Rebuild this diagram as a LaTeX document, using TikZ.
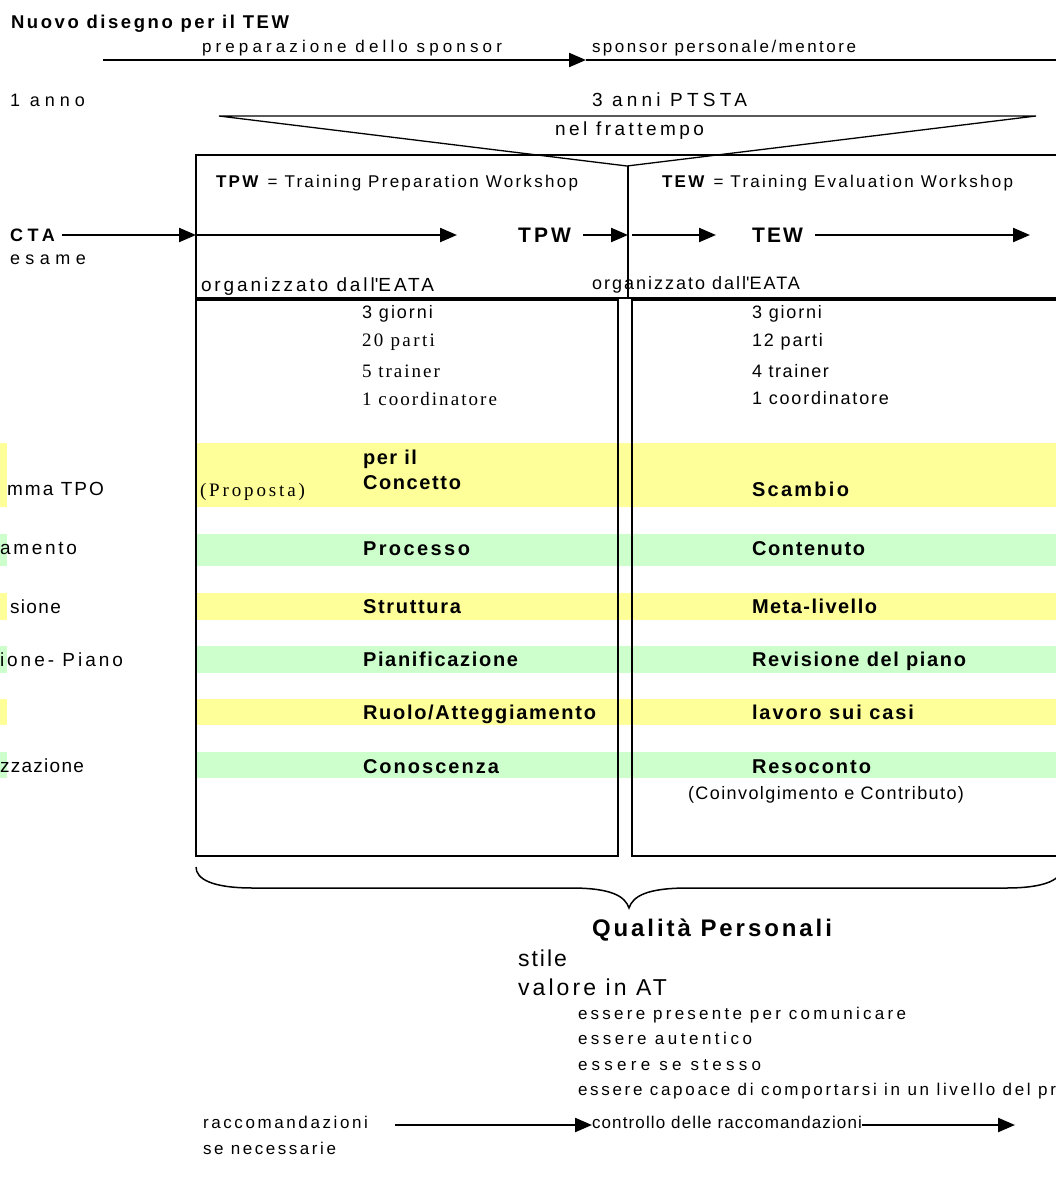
\documentclass[tikz,border=0pt]{standalone}
\usepackage{fontspec}
\setmainfont{Liberation Sans}
\newfontfamily\serifo{Liberation Serif}
\usetikzlibrary{arrows.meta}
\definecolor{bandY}{HTML}{FFFF99}
\definecolor{bandG}{HTML}{CCFFCC}
\ExplSyntaxOn
\cs_new_protected:Npn \fitw #1#2
  {
    \hbox_set:Nn \l_tmpa_box {#2}
    \hbox_set:Nn \l_tmpb_box { \addfontfeature{LetterSpace=10} #2 }
    \tl_set:Nx \l_tmpa_tl
      {
        \fp_eval:n
          {
            round( 10 * ( \dim_to_fp:n {#1} - \dim_to_fp:n { \box_wd:N \l_tmpa_box } )
              / ( \dim_to_fp:n { \box_wd:N \l_tmpb_box } - \dim_to_fp:n { \box_wd:N \l_tmpa_box } ) , 3 )
          }
      }
    \group_begin:
    \exp_args:Nx \addfontfeature { LetterSpace = \l_tmpa_tl }
    #2
    \group_end:
  }
\ExplSyntaxOff
\tikzset{
  txt/.style={inner sep=0pt, outer sep=0pt, anchor=base west},
  box/.style={line width=1.3pt, line join=miter},
  arr/.style={line width=2.3pt, -{Triangle[length=17pt,width=14pt]}},
  plain/.style={line width=2.3pt},
}
% \tx[opts]{name}{x}{y}{size}{width}{text}
\newcommand\tx[7][]{\node[txt,#1] (#2) at (#3,#4) {\fontsize{#5}{#5}\selectfont\fitw{#6pt}{#7}};}
\begin{document}
\begin{tikzpicture}[x=1pt,y=-1pt]
\useasboundingbox (0,0) rectangle (1056,1184);
\clip (0,0) rectangle (1056,1184);
% colour bands
\fill[bandY] (196,443) rectangle (1060,507);
\fill[bandG] (196,534) rectangle (1060,566);
\fill[bandY] (196,593) rectangle (1060,620);
\fill[bandG] (196,646) rectangle (1060,673);
\fill[bandY] (196,699) rectangle (1060,725);
\fill[bandG] (196,752) rectangle (1060,778);
\fill[bandY] (0,443) rectangle (7,507);
\fill[bandG] (0,534) rectangle (7,566);
\fill[bandY] (0,593) rectangle (7,620);
\fill[bandG] (0,646) rectangle (7,673);
\fill[bandY] (0,699) rectangle (7,725);
\fill[bandG] (0,752) rectangle (7,778);
% boxes
\draw[box] (1060,155) -- (196,155) -- (196,298) -- (1060,298);
\draw[box] (628,166) -- (628,298);
\draw[box] (196,300) rectangle (618,856);
\draw[box] (1060,300) -- (632,300) -- (632,856) -- (1060,856);
% triangle
\draw[line width=1.3pt, line join=miter] (219,116) -- (1036,116) -- (627,166) -- cycle;
% brace
\draw[line width=1.5pt] (196,867) .. controls (196,879) and (212,888) .. (253,888) -- (571,888)
  .. controls (611,888) and (625,896) .. (629,908)
  .. controls (633,896) and (647,888) .. (688,888) -- (1006,888)
  .. controls (1047,888) and (1062,879) .. (1062,867);
% texts
\tx[font=\bfseries]{title}{11}{28}{18.5}{278}{Nuovo disegno per il TEW}
\tx{prep}{202}{52}{17}{300}{preparazione dello sponsor}
\tx{spons}{592}{52}{17}{264}{sponsor personale/mentore}
\tx{anno}{10}{106}{18}{75}{1 anno}
\tx{ptsta}{592}{106}{19}{155}{3 anni PTSTA}
\tx{nelf}{555}{135}{19}{149}{nel frattempo}
\tx{tpwdef}{216}{187}{17}{362}{\textbf{TPW} = Training Preparation Workshop}
\tx{tewdef}{662}{187}{17}{351}{\textbf{TEW} = Training Evaluation Workshop}
\tx[font=\bfseries]{cta}{10}{241}{18}{45}{CTA}
\tx[font=\bfseries]{tpw}{518}{242}{21}{53}{TPW}
\tx[font=\bfseries]{tew}{752}{242}{21}{51}{TEW}
\tx{esame}{10}{264}{18}{76}{esame}
\tx{orgA}{201}{291}{19}{233}{organizzato dall\textquotesingle EATA}
\tx{orgB}{592}{289}{18}{208}{organizzato dall\textquotesingle EATA}
\tx{giA}{362}{318}{18}{71}{3 giorni}
\tx[font=\serifo]{paA}{362}{346}{19}{73}{20 parti}
\tx[font=\serifo]{trA}{362}{377}{19}{78}{5 trainer}
\tx[font=\serifo]{coA}{362}{405}{19}{135}{1 coordinatore}
\tx{giB}{752}{318}{18}{70}{3 giorni}
\tx{paB}{752}{346}{18}{71}{12 parti}
\tx{trB}{752}{377}{18}{77}{4 trainer}
\tx{coB}{752}{404}{18}{137}{1 coordinatore}
\tx[font=\bfseries]{peril}{363}{464}{20}{54}{per il}
\tx[font=\bfseries]{conc}{363}{489}{20}{98}{Concetto}
\tx[font=\serifo]{prop}{200}{496}{19}{105}{(Proposta)}
\tx[font=\bfseries]{scam}{752}{496}{20}{97}{Scambio}
\tx{lA}{7}{495}{19}{97}{mma TPO}
\tx[font=\bfseries]{proc}{363}{555}{20}{107}{Processo}
\tx[font=\bfseries]{cont}{752}{555}{20}{113}{Contenuto}
\tx{lB}{0}{554}{19}{77}{amento}
\tx[font=\bfseries]{strut}{363}{613}{20}{98}{Struttura}
\tx[font=\bfseries]{meta}{752}{613}{20}{125}{Meta-livello}
\tx{lC}{10}{613}{19}{51}{sione}
\tx[font=\bfseries]{pian}{363}{666}{20}{155}{Pianificazione}
\tx[font=\bfseries]{revi}{752}{666}{20}{214}{Revisione del piano}
\tx{lD}{0}{666}{19}{123}{ione- Piano}
\tx[font=\bfseries]{ruolo}{363}{719}{20}{233}{Ruolo/Atteggiamento}
\tx[font=\bfseries]{lavo}{752}{719}{20}{162}{lavoro sui casi}
\tx[font=\bfseries]{cono}{363}{773}{20}{136}{Conoscenza}
\tx[font=\bfseries]{reso}{752}{773}{20}{119}{Resoconto}
\tx{lE}{0}{772}{19}{84}{zzazione}
\tx{coinv}{688}{799}{18}{276}{(Coinvolgimento e Contributo)}
\tx[font=\bfseries]{qual}{592}{936}{24}{240}{Qualità Personali}
\tx{stile}{518}{966}{23}{49}{stile}
\tx{valore}{518}{995}{23}{149}{valore in AT}
\tx{ess1}{578}{1019.5}{17}{328}{essere presente per comunicare}
\tx{ess2}{578}{1044.5}{17}{174}{essere autentico}
\tx{ess3}{578}{1070}{17}{183}{essere se stesso}
\tx{ess4}{578}{1095.5}{17}{478}{essere capoace di comportarsi in un livello del pr}
\tx{racc}{203}{1128.5}{17}{165}{raccomandazioni}
\tx{senec}{203}{1154.5}{17}{133}{se necessarie}
\tx{contr}{592}{1128.5}{17}{270}{controllo delle raccomandazioni}
% connector end points
\coordinate (topS) at (103,60);
\coordinate (topM) at (586,60);
\coordinate (topE) at (1060,60);
\coordinate (ctaS) at (62,235);
\coordinate (boxL) at (196,235);
\coordinate (aTwoE) at (457,235);
\coordinate (tpwS) at (583,235);
\coordinate (divL) at (628,235);
\coordinate (divR) at (632,235);
\coordinate (aFourE) at (716,235);
\coordinate (tewS) at (815,235);
\coordinate (aFiveE) at (1030,235);
\coordinate (rS) at (395,1125);
\coordinate (rE) at (592,1125);
\coordinate (cS) at (862,1125);
\coordinate (cE) at (1015,1125);
% connectors
\draw[arr, line width=2.2pt] (topS) -- (topM);
\draw[plain, line width=2.2pt] (topM) -- (topE);
\draw[arr] (ctaS) -- (boxL);
\draw[arr] (boxL) -- (aTwoE);
\draw[arr] (tpwS) -- (divL);
\draw[arr] (divR) -- (aFourE);
\draw[arr] (tewS) -- (aFiveE);
\draw[arr] (rS) -- (rE);
\draw[arr] (cS) -- (cE);
\end{tikzpicture}
\end{document}
